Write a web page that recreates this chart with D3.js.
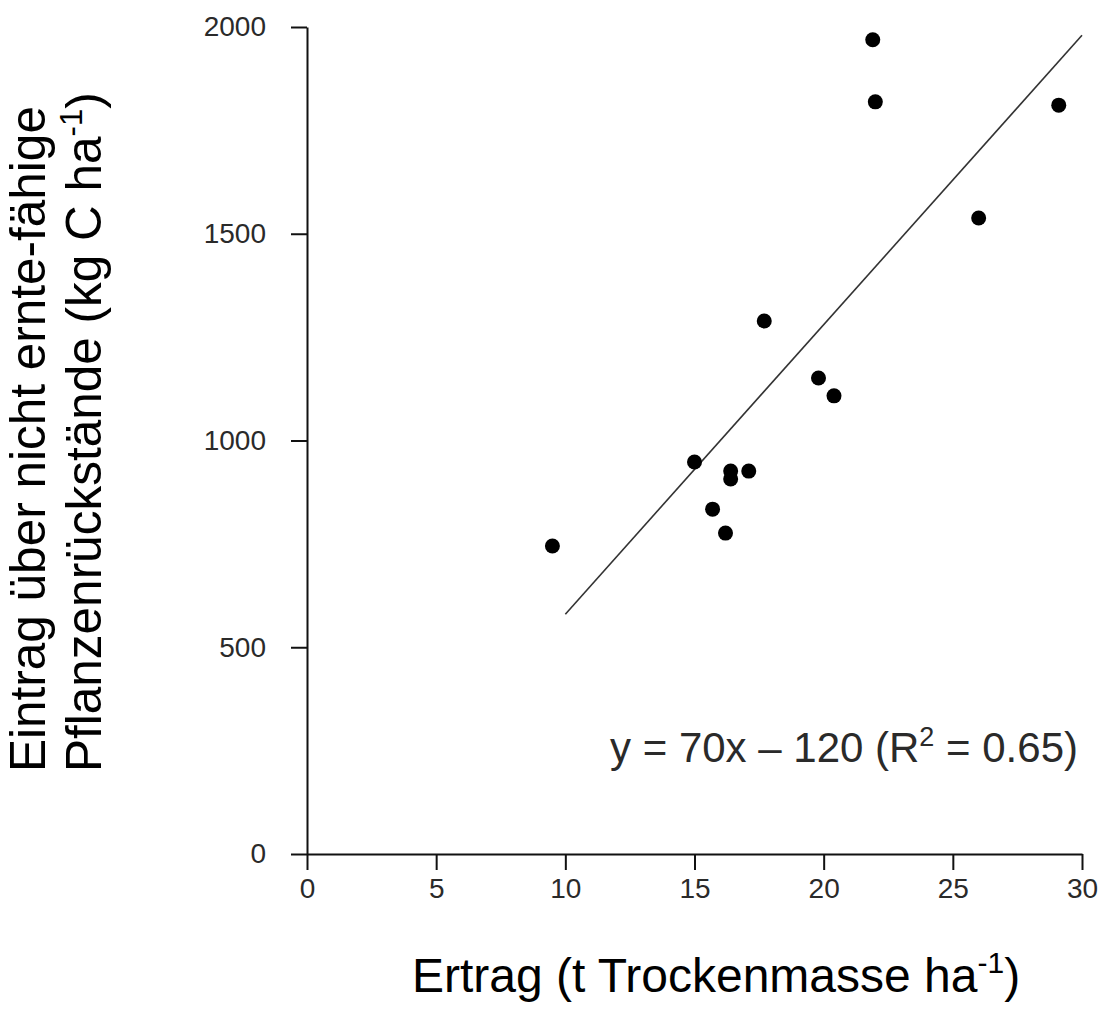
<!DOCTYPE html>
<html>
<head>
<meta charset="utf-8">
<script src="https://cdn.jsdelivr.net/npm/d3@7"></script>
<style>
  body { margin: 0; background: #fff; }
  .tick text { font-family: "Liberation Sans", Arial, sans-serif; fill: #2a2a2a; }
</style>
</head>
<body>
<div id="chart"></div>
<script>
// Data
const yieldValues = [9.5, 15.0, 15.7, 16.2, 16.4, 16.4, 17.1, 17.7, 19.8, 20.4, 21.9, 22.0, 26.0, 29.1];
const inputValues = [745, 948, 834, 776, 926, 907, 926, 1289, 1151, 1108, 1969, 1819, 1538, 1811];
const xTicks = [0, 5, 10, 15, 20, 25, 30];
const yTicks = [0, 500, 1000, 1500, 2000];
const fitSlope = 70;
const fitIntercept = -120;
const fitRange = [10, 30];

const width = 1104;
const height = 1013;

const svg = d3.select("#chart")
  .append("svg")
  .attr("width", width)
  .attr("height", height);

// Scales
const x = d3.scaleLinear().domain([0, 30]).range([307, 1082]);
const y = d3.scaleLinear().domain([0, 2000]).range([854, 27]);

// Axes
const xAxis = d3.axisBottom(x).tickValues(xTicks).tickSize(16).tickSizeOuter(0)
  .tickPadding(8).tickFormat(d3.format("d"));
const yAxis = d3.axisLeft(y).tickValues(yTicks).tickSize(16).tickSizeOuter(0)
  .tickPadding(25).tickFormat(d3.format("d"));

const gx = svg.append("g")
  .attr("transform", `translate(0, ${y(0)})`)
  .call(xAxis);
const gy = svg.append("g")
  .attr("transform", `translate(${x(0)}, 0)`)
  .call(yAxis);

[gx, gy].forEach(g => {
  g.attr("font-size", null).attr("font-family", null);
  g.selectAll("path, line").attr("stroke", "#111").attr("stroke-width", 2);
  g.selectAll("text").style("font-size", "28px");
});

// Regression line
const line = d3.line()
  .x(d => x(d))
  .y(d => y(fitSlope * d + fitIntercept));

svg.append("path")
  .datum(fitRange)
  .attr("d", line)
  .attr("fill", "none")
  .attr("stroke", "#333")
  .attr("stroke-width", 1.6);

// Points
svg.selectAll("circle")
  .data(yieldValues)
  .enter()
  .append("circle")
  .attr("cx", d => x(d))
  .attr("cy", (d, i) => y(inputValues[i]))
  .attr("r", 7.5)
  .attr("fill", "#000");

// Equation text
const eq = svg.append("text")
  .attr("x", 1078)
  .attr("y", 762)
  .attr("text-anchor", "end")
  .style("font-family", "'Liberation Sans', Arial, sans-serif")
  .style("font-size", "42px")
  .attr("fill", "#2a2a2a");
eq.append("tspan").text("y = 70x \u2013 120 (R");
eq.append("tspan").attr("dy", -16).style("font-size", "27px").text("2");
eq.append("tspan").attr("dy", 16).text(" = 0.65)");

// X axis label
const xl = svg.append("text")
  .attr("x", 716)
  .attr("y", 992)
  .attr("text-anchor", "middle")
  .style("font-family", "'Liberation Sans', Arial, sans-serif")
  .style("font-size", "48px")
  .attr("fill", "#000");
xl.append("tspan").text("Ertrag (t Trockenmasse ha");
xl.append("tspan").attr("dy", -19).style("font-size", "30px").text("-1");
xl.append("tspan").attr("dy", 19).text(")");

// Y axis label (two lines)
const yl = svg.append("text")
  .attr("transform", "translate(0, 772) rotate(-90)")
  .style("font-family", "'Liberation Sans', Arial, sans-serif")
  .style("font-size", "49.5px")
  .attr("fill", "#000");
yl.append("tspan").attr("x", 0).attr("y", 45).text("Eintrag über nicht ernte-fähige");
yl.append("tspan").attr("x", 0).attr("y", 101).text("Pflanzenrückstände (kg C ha");
yl.append("tspan").attr("dy", -19).style("font-size", "31px").text("-1");
yl.append("tspan").attr("dy", 19).text(")");
</script>
</body>
</html>
